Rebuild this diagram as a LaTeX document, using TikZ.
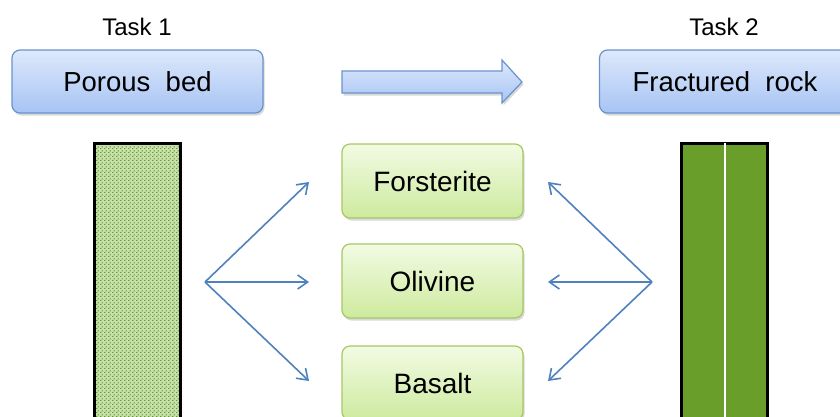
\documentclass[tikz,border=0pt]{standalone}
\usepackage{fontspec}
\setmainfont{Liberation Sans}
\usetikzlibrary{arrows.meta,shadows,patterns}
\definecolor{bluebd}{HTML}{6A93CB}
\definecolor{bluetop}{HTML}{DDE8FB}
\definecolor{bluebot}{HTML}{A7C4F4}
\definecolor{greenbd}{HTML}{A6C864}
\definecolor{greentop}{HTML}{F2FBE3}
\definecolor{greenbot}{HTML}{CDEA9E}
\definecolor{arrowblue}{HTML}{4F81BD}
\definecolor{rockgreen}{HTML}{699E2A}
\definecolor{bedlight}{HTML}{C9E0AC}
\definecolor{beddark}{HTML}{5F9A2A}
\pgfdeclarepatternformonly{beddots}{\pgfpointorigin}{\pgfpoint{4pt}{4pt}}{\pgfpoint{4pt}{4pt}}{%
  \pgfpathrectangle{\pgfpoint{0pt}{0pt}}{\pgfpoint{1.6pt}{1.2pt}}%
  \pgfpathrectangle{\pgfpoint{2pt}{2pt}}{\pgfpoint{1.6pt}{1.2pt}}%
  \pgfusepath{fill}}
\tikzset{
  taskbox/.style={draw=bluebd, line width=1.2pt, rounded corners=8pt, top color=bluetop, bottom color=bluebot,
    minimum width=251pt, minimum height=63pt, font=\fontsize{27.5}{32}\selectfont,
    drop shadow={shadow xshift=1.5pt, shadow yshift=-2.5pt, opacity=0.3}},
  minbox/.style={draw=greenbd, line width=1.2pt, rounded corners=8pt, top color=greentop, bottom color=greenbot,
    minimum width=181pt, minimum height=74pt, font=\fontsize{28}{32}\selectfont,
    drop shadow={shadow xshift=1.5pt, shadow yshift=-2.5pt, opacity=0.3}},
  tasklabel/.style={font=\fontsize{24}{28}\selectfont, inner sep=0pt},
  column/.style={draw=black, line width=3pt, minimum width=86pt, minimum height=290pt, inner sep=0pt},
  conn/.style={draw=arrowblue, line width=1.6pt, -{Straight Barb[length=10pt, width=14pt, line width=1.6pt]}},
  bigarr/.style={draw=bluebd, line width=1.2pt, top color=bluetop, bottom color=bluebot,
    drop shadow={shadow xshift=1.5pt, shadow yshift=-2.5pt, opacity=0.3}}
}
\begin{document}
\begin{tikzpicture}[x=1pt,y=-1pt]
\useasboundingbox (0,0) rectangle (840,416);
\clip (0,0) rectangle (840,416);
% task labels and boxes
\node[tasklabel] (t1) at (137,27) {Task 1};
\node[tasklabel] (t2) at (724,27) {Task 2};
\node[taskbox] (pb) at (137.5,81.5) {Porous\ \ bed};
\node[taskbox] (fr) at (725,81.5) {Fractured\ \ rock};
% big arrow
\path[bigarr] (342,71) -- (502,71) -- (502,60) -- (522,82) -- (502,103) -- (502,93) -- (342,93) -- cycle;
% columns
\node[column, preaction={fill=bedlight}, pattern=beddots, pattern color=beddark] (pcol) at (137,288) {};
\node[column, fill=rockgreen] (fcol) at (724.5,288) {};
\draw[white, line width=2pt] ([yshift=-1.5pt]fcol.north) -- (fcol.south);
% mineral boxes
\node[minbox] (fo) at (432.5,181) {Forsterite};
\node[minbox] (ol) at (432.5,281) {Olivine};
\node[minbox] (ba) at (432.5,383) {Basalt};
% connectors
\coordinate (ls) at (205,282);
\coordinate (rs) at (652,282);
\coordinate (lfo) at (309,182);
\coordinate (lol) at (309,282);
\coordinate (lba) at (309,381);
\coordinate (rfo) at (548,182);
\coordinate (rol) at (548,282);
\coordinate (rba) at (548,381);
\draw[conn] (ls) -- (lfo);
\draw[conn] (ls) -- (lol);
\draw[conn] (ls) -- (lba);
\draw[conn] (rs) -- (rfo);
\draw[conn] (rs) -- (rol);
\draw[conn] (rs) -- (rba);
\end{tikzpicture}
\end{document}
